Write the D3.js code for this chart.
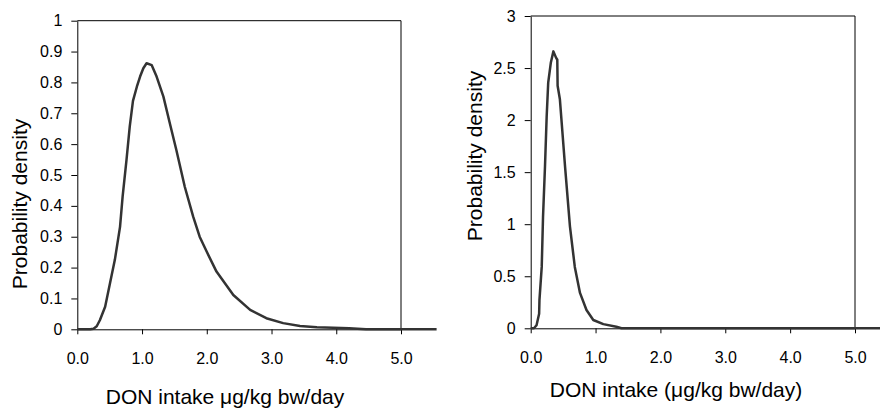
<!DOCTYPE html>
<html lang="en">
<head>
	<meta charset="UTF-8">
	<title>DON intake</title>
	<script src="https://d3js.org/d3.v7.min.js"></script>
	<style>
		body { margin: 0; background: white; }
		svg { font-family: "Liberation Sans", Arial, sans-serif; }
	</style>
</head>
<body>
	<svg width="880" height="408"></svg>
	<script>
		// values
		const xTicks = [0, 1, 2, 3, 4, 5];
		const leftYTicks = [0, 0.1, 0.2, 0.3, 0.4, 0.5, 0.6, 0.7, 0.8, 0.9, 1];
		const rightYTicks = [0, 0.5, 1, 1.5, 2, 2.5, 3];

		const leftX = [0, 0.1, 0.2, 0.25, 0.3, 0.35, 0.43, 0.505, 0.58, 0.66, 0.7, 0.76, 0.81, 0.86, 0.92, 0.97, 1.02, 1.07, 1.15, 1.225, 1.33, 1.43, 1.53, 1.66, 1.79, 1.89, 2.0, 2.15, 2.41, 2.67, 2.92, 3.18, 3.44, 3.7, 4.2, 4.46, 5.0, 5.55];
		const leftDensity = [0, 0, 0, 0.002, 0.01, 0.03, 0.073, 0.149, 0.225, 0.332, 0.43, 0.549, 0.657, 0.74, 0.786, 0.819, 0.846, 0.862, 0.856, 0.819, 0.754, 0.667, 0.581, 0.462, 0.365, 0.3, 0.251, 0.187, 0.111, 0.063, 0.036, 0.02, 0.011, 0.007, 0.003, 0, 0, 0];

		const rightX = [0, 0.05, 0.09, 0.13, 0.135, 0.17, 0.19, 0.22, 0.246, 0.27, 0.31, 0.35, 0.39, 0.41, 0.415, 0.45, 0.53, 0.605, 0.68, 0.76, 0.86, 0.965, 1.12, 1.32, 1.4, 2.0, 5.0, 5.55];
		const rightDensity = [0, 0, 0.03, 0.14, 0.27, 0.59, 1.07, 1.55, 2.03, 2.36, 2.55, 2.66, 2.6, 2.58, 2.33, 2.2, 1.55, 0.98, 0.59, 0.34, 0.176, 0.08, 0.04, 0.015, 0, 0, 0, 0];

		const svg = d3.select("svg");

		function densityChart(opts) {
			const x = d3.scaleLinear().domain([0, 5]).range([opts.left, opts.right]);
			const y = d3.scaleLinear().domain([0, opts.yMax]).range([opts.bottom, opts.top]);

			const g = svg.append("g");

			// frame: top and right sides
			g.append("line")
				.attr("x1", x(0)).attr("x2", x(5))
				.attr("y1", y(opts.yMax)).attr("y2", y(opts.yMax))
				.attr("stroke", "black");
			g.append("line")
				.attr("x1", x(5)).attr("x2", x(5))
				.attr("y1", y(0)).attr("y2", y(opts.yMax))
				.attr("stroke", "black");

			const xAxis = g.append("g")
				.attr("transform", "translate(0," + y(0) + ")")
				.call(d3.axisBottom(x).tickValues(xTicks).tickFormat(d3.format(".1f")).tickSize(5).tickPadding(18).tickSizeOuter(0));

			const yAxis = g.append("g")
				.attr("transform", "translate(" + x(0) + ",0)")
				.call(d3.axisLeft(y).tickValues(opts.yTicks).tickFormat(d => String(d)).tickSize(6).tickPadding(9).tickSizeOuter(0));

			[xAxis, yAxis].forEach(a => {
				a.selectAll("text").style("font-size", "16px").attr("fill", "black");
				a.attr("font-family", null);
				a.selectAll("line, path").attr("stroke", "black");
			});

			const line = d3.line()
				.x(d => x(d[0]))
				.y(d => y(d[1]));

			g.append("path")
				.datum(opts.xs.map((v, i) => [v, opts.ys[i]]))
				.attr("fill", "none")
				.attr("stroke", "#333")
				.attr("stroke-width", 2.5)
				.attr("stroke-linejoin", "round")
				.attr("d", line);

			g.append("text")
				.attr("transform", "translate(" + opts.yTitleX + "," + opts.yTitleY + ") rotate(-90)")
				.attr("text-anchor", "middle")
				.style("font-size", "21px")
				.text("Probability density");

			g.append("text")
				.attr("x", opts.xTitleX)
				.attr("y", opts.xTitleY)
				.attr("text-anchor", "middle")
				.style("font-size", "21px")
				.text(opts.xTitle);
		}

		densityChart({
			left: 77.3, right: 401, top: 20.7, bottom: 329.3,
			yMax: 1, yTicks: leftYTicks,
			xs: leftX, ys: leftDensity,
			yTitleX: 27, yTitleY: 204,
			xTitleX: 225, xTitleY: 404,
			xTitle: "DON intake μg/kg bw/day"
		});

		densityChart({
			left: 530.7, right: 855, top: 16, bottom: 328.3,
			yMax: 3, yTicks: rightYTicks,
			xs: rightX, ys: rightDensity,
			yTitleX: 482, yTitleY: 156,
			xTitleX: 676, xTitleY: 397,
			xTitle: "DON intake (μg/kg bw/day)"
		});
	</script>
</body>
</html>
